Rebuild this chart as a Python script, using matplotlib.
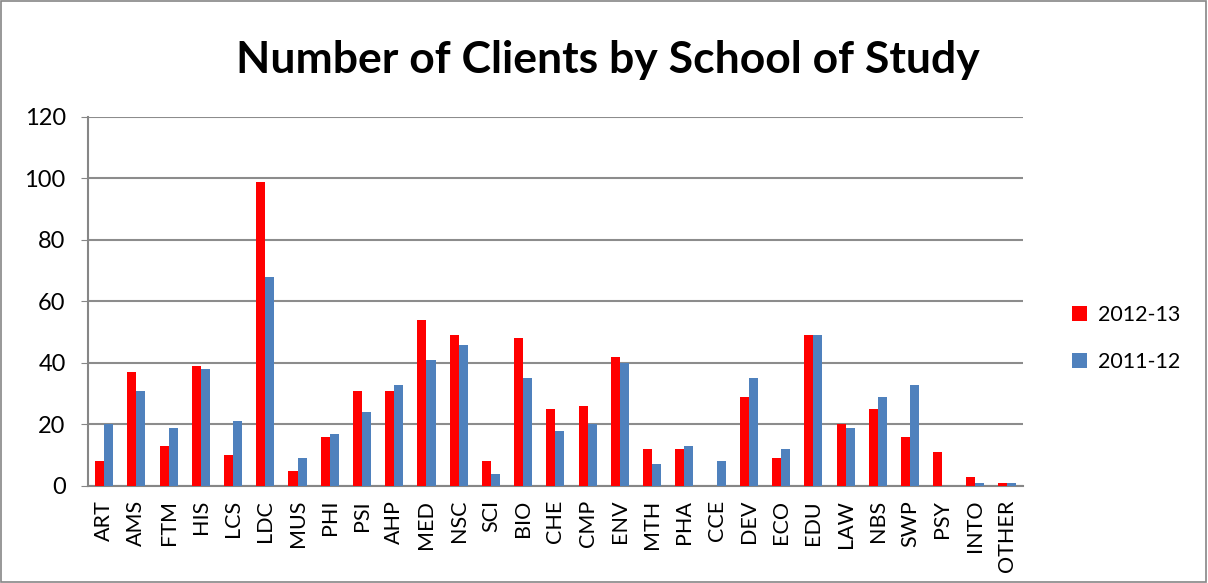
import matplotlib.pyplot as plt
import numpy as np
from matplotlib.patches import Rectangle

schools = ["ART", "AMS", "FTM", "HIS", "LCS", "LDC", "MUS", "PHI", "PSI", "AHP",
           "MED", "NSC", "SCI", "BIO", "CHE", "CMP", "ENV", "MTH", "PHA", "CCE",
           "DEV", "ECO", "EDU", "LAW", "NBS", "SWP", "PSY", "INTO", "OTHER"]
clients_2012_13 = [8, 37, 13, 39, 10, 99, 5, 16, 31, 31,
                   54, 49, 8, 48, 25, 26, 42, 12, 12, 0,
                   29, 9, 49, 20, 25, 16, 11, 3, 1]
clients_2011_12 = [20, 31, 19, 38, 21, 68, 9, 17, 24, 33,
                   41, 46, 4, 35, 18, 20, 40, 7, 13, 8,
                   35, 12, 49, 19, 29, 33, 0, 1, 1]
y_ticks = [0, 20, 40, 60, 80, 100, 120]

plt.rcParams["font.family"] = ["Lato", "DejaVu Sans"]

fig = plt.figure(figsize=(12.08, 5.83), dpi=100)
fig.patches.append(Rectangle((0.001, 0.002), 0.997, 0.996, transform=fig.transFigure,
                             fill=False, edgecolor="#868686", linewidth=1.2))

ax = fig.add_axes([0.0728, 0.1664, 0.774, 0.633])

x = np.arange(len(schools))
w = 0.28
ax.bar(x - w / 2, clients_2012_13, w, color="#FF0000", label="2012-13", zorder=3)
ax.bar(x + w / 2, clients_2011_12, w, color="#4F81BD", label="2011-12", zorder=3)

ax.set_xlim(-0.5, len(schools) - 0.5)
ax.set_ylim(0, 120)
ax.set_yticks(y_ticks)
ax.yaxis.grid(True, color="#8C8C8C", linewidth=1.5, zorder=0)
ax.set_axisbelow(True)

ax.set_xticks(x)
ax.set_xticklabels(schools, rotation=90, fontsize=15.5)
ax.tick_params(axis="y", labelsize=17, length=5, color="#868686", pad=11)
ax.tick_params(axis="x", length=0, pad=10)

ax.spines["right"].set_visible(False)
ax.spines["top"].set_visible(False)
for side in ["left", "bottom"]:
    ax.spines[side].set_color("#868686")
    ax.spines[side].set_linewidth(1.5)

fig.text(0.503, 0.897, "Number of Clients by School of Study", ha="center", va="center",
         fontsize=32, fontweight="bold")

fig.legend(loc="center left", bbox_to_anchor=(0.871, 0.42), frameon=False,
           fontsize=15.5, handlelength=0.7, handleheight=0.7, labelspacing=1.25,
           handletextpad=0.55)

fig.savefig("out.png", dpi=100)
